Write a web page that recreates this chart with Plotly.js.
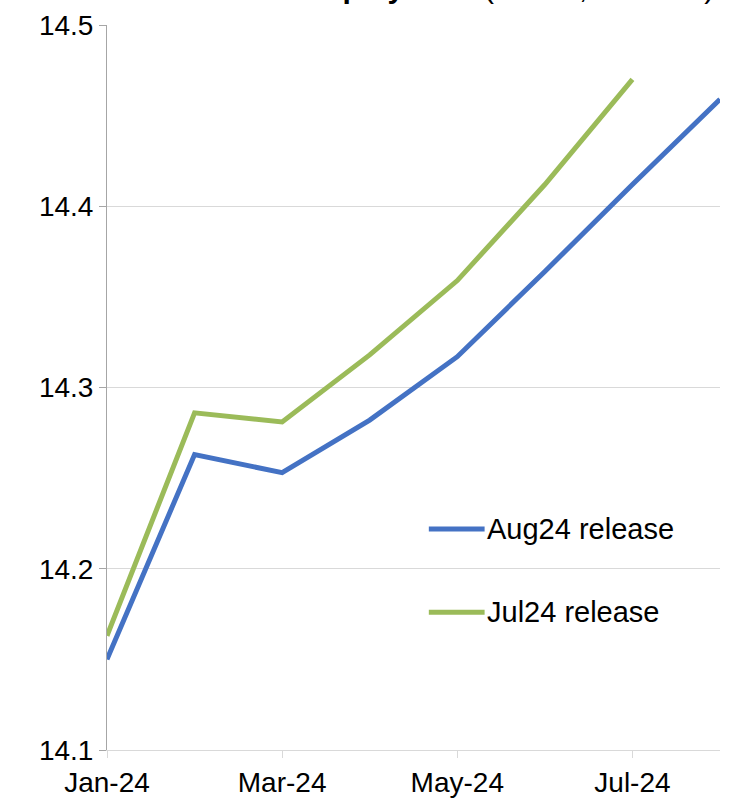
<!DOCTYPE html>
<html>
<head>
<meta charset="utf-8">
<script src="https://cdn.plot.ly/plotly-3.0.1.min.js"></script>
<style>html,body{margin:0;padding:0;background:#fff;}#chart{width:731px;height:804px;}</style>
</head>
<body>
<div id="chart"></div>
<script>
const months = ['Jan-24','Feb-24','Mar-24','Apr-24','May-24','Jun-24','Jul-24','Aug-24'];
const tickLabels = ['Jan-24','Mar-24','May-24','Jul-24'];
const aug24Release = [14.150, 14.263, 14.253, 14.282, 14.317, 14.364, 14.412, 14.459];
const jul24Release = [14.163, 14.286, 14.281, 14.318, 14.359, 14.412, 14.470];
const seriesNames = ['Aug24 release', 'Jul24 release'];
const seriesColors = ['#4472C4', '#9BBB59'];
const titleText = '<b>Australian employment</b> (million, sa trend)';

const traces = [
  {x: months, y: aug24Release, type: 'scatter', mode: 'lines', name: seriesNames[0],
   line: {color: seriesColors[0], width: 5}},
  {x: months.slice(0, jul24Release.length), y: jul24Release, type: 'scatter', mode: 'lines', name: seriesNames[1],
   line: {color: seriesColors[1], width: 5}}
];

// legend drawn inside the plot (paper coordinates)
const legendY = [0.305, 0.19];
const shapes = [];
const annotations = [];
seriesNames.forEach((n, i) => {
  shapes.push({type: 'line', xref: 'paper', yref: 'paper', x0: 0.525, x1: 0.616, y0: legendY[i], y1: legendY[i],
               line: {color: seriesColors[i], width: 5}});
  annotations.push({text: n, xref: 'paper', yref: 'paper', x: 0.617, y: legendY[i], xanchor: 'left',
                    yanchor: 'middle', showarrow: false, font: {size: 29, color: '#000'}});
});
annotations.push({text: titleText, xref: 'paper', yref: 'paper', x: 0.967, y: 1, xanchor: 'right',
                  yanchor: 'bottom', yshift: 19, xshift: 16, showarrow: false, font: {size: 30, color: '#000'}});

const layout = {
  width: 731, height: 804,
  margin: {l: 107, r: 11, t: 25, b: 54},
  paper_bgcolor: '#fff', plot_bgcolor: '#fff',
  font: {family: 'Liberation Sans, Arial, sans-serif', size: 28, color: '#000'},
  showlegend: false,
  xaxis: {type: 'category', range: [0, months.length - 1], tickmode: 'array', tickvals: tickLabels,
          ticktext: tickLabels, showgrid: false, showline: true, linecolor: '#D9D9D9', linewidth: 1,
          ticks: 'outside', ticklen: 7, tickcolor: '#D9D9D9', tickfont: {size: 28}, zeroline: false},
  yaxis: {range: [14.1, 14.5], dtick: 0.1, tickformat: '.1f', showgrid: true, gridcolor: '#D9D9D9',
          gridwidth: 1, showline: true, linecolor: '#A6A6A6', linewidth: 1, ticks: 'outside',
          ticklen: 7, tickcolor: '#A6A6A6', tickfont: {size: 28}, zeroline: false},
  shapes: shapes,
  annotations: annotations
};

Plotly.newPlot('chart', traces, layout, {displayModeBar: false, staticPlot: true});
</script>
</body>
</html>
